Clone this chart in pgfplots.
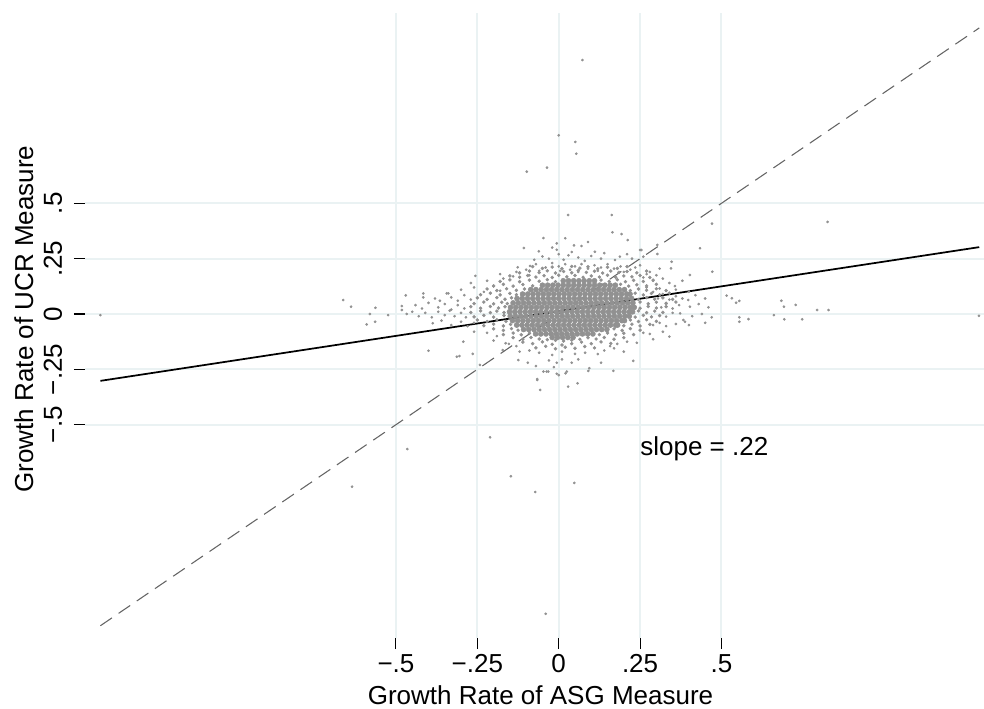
\documentclass[border=0pt]{standalone}
\usepackage{pgfplots}
\pgfplotsset{compat=1.18}
\usepackage{fontspec}
\setmainfont{Liberation Sans}
\definecolor{gridc}{RGB}{234,242,243}
\definecolor{ptc}{RGB}{145,145,145}
\definecolor{dashc}{RGB}{100,100,100}
\begin{document}
\fontsize{19.5}{23}\selectfont
\begin{tikzpicture}
\begin{axis}[
  at={(63.75pt,53.25pt)}, anchor=south west,
  scale only axis, width=674.25pt, height=468.75pt,
  xmin=-1.4553, xmax=1.3066, ymin=-1.4634, ymax=1.3595,
  axis line style={draw=none},
  tick pos=left, tick align=outside, major tick length=8.25pt,
  tick style={black, line width=0.8pt},
  grid=major, major grid style={gridc, line width=1.5pt},
  xtick={-0.5,-0.25,0,0.25,0.5}, xticklabels={−.5,−.25,0,.25,.5},
  ytick={-0.5,-0.25,0,0.25,0.5}, yticklabels={−.5,−.25,0,.25,.5},
  xticklabel style={anchor=base, inner sep=0pt, yshift=-17.25pt},
  yticklabel style={rotate=90, anchor=base, inner sep=0pt},
  yticklabel shift=9pt,
  xlabel={Growth Rate of ASG Measure},
  ylabel={Growth Rate of UCR Measure},
  xlabel style={at={(axis description cs:0.5067,-0.106)}, anchor=base, inner sep=0pt},
  ylabel style={at={(axis description cs:-0.0578,0.5104)}, anchor=base, inner sep=0pt, rotate=0},
  clip=false,
]
% dense core
\addplot[only marks, mark=*, mark size=1.9pt, ptc, mark options={draw=none, fill=ptc}] coordinates {
(0.014,0.15)(0.03,0.15)(0.046,0.15)(0.062,0.15)(0.078,0.15)(0.094,0.15)(0.11,0.15)
(-0.05,0.13)(-0.034,0.13)(-0.018,0.13)(-0.002,0.13)(0.014,0.13)(0.03,0.13)(0.046,0.13)(0.062,0.13)(0.078,0.13)(0.094,0.13)(0.11,0.13)(0.126,0.13)(0.142,0.13)(0.158,0.13)(0.174,0.13)
(-0.086,0.11)(-0.07,0.11)(-0.054,0.11)(-0.038,0.11)(-0.022,0.11)(-0.006,0.11)(0.01,0.11)(0.026,0.11)(0.042,0.11)(0.058,0.11)(0.074,0.11)(0.09,0.11)(0.106,0.11)(0.122,0.11)(0.138,0.11)(0.154,0.11)(0.17,0.11)(0.186,0.11)(0.202,0.11)
(-0.111,0.09)(-0.095,0.09)(-0.079,0.09)(-0.063,0.09)(-0.047,0.09)(-0.031,0.09)(-0.015,0.09)(0.001,0.09)(0.017,0.09)(0.033,0.09)(0.049,0.09)(0.065,0.09)(0.081,0.09)(0.097,0.09)(0.113,0.09)(0.129,0.09)(0.145,0.09)(0.161,0.09)(0.177,0.09)(0.193,0.09)(0.209,0.09)(0.219,0.09)
(-0.128,0.07)(-0.112,0.07)(-0.096,0.07)(-0.08,0.07)(-0.064,0.07)(-0.048,0.07)(-0.032,0.07)(-0.016,0.07)(0,0.07)(0.016,0.07)(0.032,0.07)(0.048,0.07)(0.064,0.07)(0.08,0.07)(0.096,0.07)(0.112,0.07)(0.128,0.07)(0.144,0.07)(0.16,0.07)(0.176,0.07)(0.192,0.07)(0.208,0.07)(0.224,0.07)
(-0.14,0.05)(-0.124,0.05)(-0.108,0.05)(-0.092,0.05)(-0.076,0.05)(-0.06,0.05)(-0.044,0.05)(-0.028,0.05)(-0.012,0.05)(0.004,0.05)(0.02,0.05)(0.036,0.05)(0.052,0.05)(0.068,0.05)(0.084,0.05)(0.1,0.05)(0.116,0.05)(0.132,0.05)(0.148,0.05)(0.164,0.05)(0.18,0.05)(0.196,0.05)(0.212,0.05)(0.228,0.05)
(-0.148,0.03)(-0.132,0.03)(-0.116,0.03)(-0.1,0.03)(-0.084,0.03)(-0.068,0.03)(-0.052,0.03)(-0.036,0.03)(-0.02,0.03)(-0.004,0.03)(0.012,0.03)(0.028,0.03)(0.044,0.03)(0.06,0.03)(0.076,0.03)(0.092,0.03)(0.108,0.03)(0.124,0.03)(0.14,0.03)(0.156,0.03)(0.172,0.03)(0.188,0.03)(0.204,0.03)(0.22,0.03)(0.232,0.03)
(-0.151,0.01)(-0.135,0.01)(-0.119,0.01)(-0.103,0.01)(-0.087,0.01)(-0.071,0.01)(-0.055,0.01)(-0.039,0.01)(-0.023,0.01)(-0.007,0.01)(0.009,0.01)(0.025,0.01)(0.041,0.01)(0.057,0.01)(0.073,0.01)(0.089,0.01)(0.105,0.01)(0.121,0.01)(0.137,0.01)(0.153,0.01)(0.169,0.01)(0.185,0.01)(0.201,0.01)(0.217,0.01)(0.227,0.01)
(-0.149,-0.01)(-0.133,-0.01)(-0.117,-0.01)(-0.101,-0.01)(-0.085,-0.01)(-0.069,-0.01)(-0.053,-0.01)(-0.037,-0.01)(-0.021,-0.01)(-0.005,-0.01)(0.011,-0.01)(0.027,-0.01)(0.043,-0.01)(0.059,-0.01)(0.075,-0.01)(0.091,-0.01)(0.107,-0.01)(0.123,-0.01)(0.139,-0.01)(0.155,-0.01)(0.171,-0.01)(0.187,-0.01)(0.203,-0.01)(0.217,-0.01)
(-0.142,-0.03)(-0.126,-0.03)(-0.11,-0.03)(-0.094,-0.03)(-0.078,-0.03)(-0.062,-0.03)(-0.046,-0.03)(-0.03,-0.03)(-0.014,-0.03)(0.002,-0.03)(0.018,-0.03)(0.034,-0.03)(0.05,-0.03)(0.066,-0.03)(0.082,-0.03)(0.098,-0.03)(0.114,-0.03)(0.13,-0.03)(0.146,-0.03)(0.162,-0.03)(0.178,-0.03)(0.194,-0.03)(0.202,-0.03)
(-0.129,-0.05)(-0.113,-0.05)(-0.097,-0.05)(-0.081,-0.05)(-0.065,-0.05)(-0.049,-0.05)(-0.033,-0.05)(-0.017,-0.05)(-0.001,-0.05)(0.015,-0.05)(0.031,-0.05)(0.047,-0.05)(0.063,-0.05)(0.079,-0.05)(0.095,-0.05)(0.111,-0.05)(0.127,-0.05)(0.143,-0.05)(0.159,-0.05)(0.175,-0.05)(0.181,-0.05)
(-0.108,-0.07)(-0.092,-0.07)(-0.076,-0.07)(-0.06,-0.07)(-0.044,-0.07)(-0.028,-0.07)(-0.012,-0.07)(0.004,-0.07)(0.02,-0.07)(0.036,-0.07)(0.052,-0.07)(0.068,-0.07)(0.084,-0.07)(0.1,-0.07)(0.116,-0.07)(0.132,-0.07)(0.148,-0.07)
(-0.071,-0.09)(-0.055,-0.09)(-0.039,-0.09)(-0.023,-0.09)(-0.007,-0.09)(0.009,-0.09)(0.025,-0.09)(0.041,-0.09)(0.057,-0.09)(0.073,-0.09)(0.089,-0.09)(0.105,-0.09)
(-0.02,-0.106)(-0.004,-0.106)(0.012,-0.106)(0.028,-0.106)(0.044,-0.106)
};
% ring around the core
\addplot[only marks, mark=*, mark size=1.1pt, ptc, mark options={draw=none, fill=ptc}] coordinates {
(-0.08,0.214)(-0.05,0.206)(-0.02,0.212)(0.01,0.205)(0.04,0.215)(0.065,0.207)(0.09,0.213)(0.12,0.204)(0.15,0.211)(0.18,0.206)(0.21,0.214)
(-0.12,0.186)(-0.09,0.194)(-0.06,0.187)(-0.035,0.195)(-0.01,0.185)(0.015,0.192)(0.04,0.186)(0.06,0.196)(0.085,0.188)(0.11,0.193)(0.135,0.185)(0.16,0.194)(0.185,0.188)(0.21,0.192)(0.24,0.186)(0.27,0.194)
(-0.15,0.172)(-0.12,0.166)(-0.095,0.174)(-0.07,0.167)(-0.045,0.173)(-0.02,0.165)(0.0,0.175)(0.025,0.168)(0.05,0.174)(0.075,0.166)(0.1,0.172)(0.125,0.167)(0.15,0.175)(0.175,0.166)(0.2,0.172)(0.225,0.168)(0.25,0.174)(0.28,0.165)
(-0.18,0.147)(-0.15,0.154)(-0.12,0.146)(-0.09,0.153)(-0.06,0.148)(-0.035,0.155)(-0.01,0.146)(0.13,0.153)(0.155,0.147)(0.18,0.155)(0.205,0.146)(0.23,0.152)(0.26,0.147)(0.29,0.153)
(-0.2,0.127)(-0.17,0.134)(-0.14,0.126)(-0.11,0.133)(-0.08,0.127)(0.19,0.134)(0.215,0.126)(0.24,0.132)(0.27,0.127)(0.30,0.134)
(-0.22,0.113)(-0.19,0.106)(-0.16,0.114)(-0.13,0.107)(-0.105,0.113)(0.22,0.106)(0.245,0.113)(0.27,0.107)(0.30,0.114)(0.33,0.106)
(-0.24,0.087)(-0.21,0.094)(-0.18,0.086)(-0.15,0.093)(-0.13,0.087)(0.235,0.094)(0.26,0.086)(0.285,0.093)(0.31,0.087)(0.34,0.094)
(-0.25,0.073)(-0.22,0.066)(-0.19,0.074)(-0.165,0.067)(-0.145,0.073)(0.245,0.066)(0.27,0.074)(0.295,0.067)(0.32,0.073)(0.35,0.066)
(-0.26,0.047)(-0.23,0.054)(-0.2,0.046)(-0.175,0.053)(-0.158,0.047)(0.25,0.054)(0.275,0.046)(0.30,0.053)(0.33,0.047)(0.36,0.054)
(-0.27,0.033)(-0.24,0.026)(-0.21,0.034)(-0.185,0.027)(-0.165,0.033)(0.25,0.026)(0.275,0.034)(0.30,0.027)(0.33,0.033)
(-0.27,0.007)(-0.24,0.014)(-0.21,0.006)(-0.19,0.013)(-0.168,0.007)(0.245,0.014)(0.27,0.006)(0.295,0.013)(0.32,0.007)
(-0.26,-0.013)(-0.23,-0.006)(-0.2,-0.014)(-0.168,-0.007)(0.235,-0.014)(0.26,-0.006)(0.285,-0.013)(0.31,-0.007)
(-0.25,-0.027)(-0.22,-0.034)(-0.19,-0.026)(-0.162,-0.033)(0.22,-0.027)(0.245,-0.034)(0.27,-0.026)(0.30,-0.033)
(-0.23,-0.053)(-0.2,-0.046)(-0.17,-0.054)(-0.148,-0.047)(0.2,-0.053)(0.225,-0.046)(0.25,-0.054)(0.28,-0.047)
(-0.2,-0.067)(-0.17,-0.074)(-0.145,-0.066)(-0.125,-0.073)(0.17,-0.067)(0.195,-0.074)(0.22,-0.066)(0.25,-0.073)
(-0.17,-0.093)(-0.14,-0.086)(-0.115,-0.094)(-0.09,-0.087)(0.125,-0.093)(0.15,-0.086)(0.175,-0.094)(0.2,-0.087)(0.23,-0.093)
(-0.14,-0.107)(-0.11,-0.114)(-0.085,-0.106)(-0.06,-0.113)(-0.035,-0.116)(-0.01,-0.119)(0.015,-0.122)(0.04,-0.118)(0.065,-0.114)(0.09,-0.107)(0.115,-0.113)(0.14,-0.106)(0.17,-0.114)(0.2,-0.107)
(-0.11,-0.127)(-0.08,-0.134)(-0.05,-0.126)(-0.02,-0.137)(0.01,-0.14)(0.04,-0.134)(0.07,-0.127)(0.1,-0.134)(0.13,-0.126)(0.16,-0.133)
(-0.07,-0.153)(-0.04,-0.146)(-0.01,-0.157)(0.02,-0.15)(0.05,-0.155)(0.08,-0.147)(0.11,-0.153)
};
% halo and outliers
\addplot[only marks, mark=*, mark size=0.8pt, ptc, mark options={draw=none, fill=ptc}] coordinates {
(-0.047,0.343)(0.02,0.342)(-0.006,0.319)(0.07,0.307)(-0.107,0.298)(0.193,0.361)(0.165,0.369)(0.212,0.334)(0.303,0.312)(0.434,0.297)(0.029,0.447)(0.163,0.447)(0.25,0.289)(0.254,0.289)(-0.061,0.283)(0.111,0.281)(0.047,0.31)(-0.02,0.30)(0.09,0.325)
(-0.006,0.29)(0.0,0.27)(0.303,0.271)(0.188,0.259)(0.173,0.244)(0.26,0.259)(0.347,0.236)(-0.088,0.217)(-0.126,0.211)(0.03,0.265)(0.06,0.255)(0.10,0.262)(0.13,0.25)(-0.03,0.25)(-0.05,0.26)(0.015,0.245)(0.08,0.24)(0.21,0.27)(0.225,0.25)(0.14,0.275)(-0.075,0.245)(0.04,0.28)
(-0.18,0.18)(-0.256,0.172)(0.345,0.206)(0.403,0.176)(0.472,0.191)(-0.10,0.20)(-0.07,0.225)(-0.04,0.21)(-0.02,0.23)(0.0,0.215)(0.02,0.225)(0.035,0.20)(0.05,0.215)(0.07,0.225)(0.09,0.205)(0.11,0.22)(0.13,0.21)(0.15,0.225)(0.17,0.205)(0.19,0.215)(0.22,0.20)(0.25,0.22)(0.28,0.19)(0.31,0.205)(-0.13,0.19)(-0.06,0.195)(0.005,0.195)(0.06,0.19)(0.12,0.195)(0.20,0.19)(0.235,0.21)
(-0.22,0.15)(-0.17,0.16)(-0.14,0.17)(-0.12,0.145)(-0.09,0.175)(0.26,0.165)(0.29,0.15)(0.32,0.16)(0.357,0.126)(-0.27,0.14)(0.27,0.18)(0.30,0.175)(0.34,0.14)(0.38,0.15)
(-0.30,0.11)(-0.26,0.12)(-0.23,0.10)(-0.20,0.125)(-0.18,0.105)(0.27,0.12)(0.29,0.10)(0.31,0.115)(0.33,0.105)(0.36,0.11)(0.40,0.10)(-0.344,0.093)(-0.339,0.093)(-0.416,0.093)(-0.47,0.084)
(-0.38,0.07)(-0.365,0.06)(-0.33,0.075)(-0.31,0.06)(-0.29,0.085)(-0.27,0.065)(0.305,0.07)(0.32,0.09)(0.34,0.065)(0.36,0.08)(0.38,0.07)(0.398,0.063)(0.42,0.085)(0.45,0.07)(-0.416,0.075)
(-0.482,0.036)(-0.44,0.04)(-0.42,0.025)(-0.40,0.05)(-0.37,0.03)(-0.35,0.045)(-0.33,0.02)(-0.31,0.04)(-0.29,0.025)(0.315,0.03)(0.33,0.05)(0.35,0.025)(0.37,0.04)(0.403,0.033)(0.43,0.045)(0.46,0.03)(-0.563,0.028)(-0.638,0.033)(-0.662,0.063)(0.516,0.083)(0.532,0.071)(0.545,0.051)(0.555,0.059)
(-0.58,0.0)(-0.524,-0.005)(-0.482,0.018)(-0.467,0.0)(-0.45,0.01)(-0.43,-0.01)(-0.41,0.005)(-0.39,-0.015)(-0.37,0.01)(-0.35,-0.005)(-0.335,0.015)(-0.32,-0.01)(-0.30,0.005)(-0.285,-0.015)(0.33,-0.012)(0.35,0.005)(0.373,0.003)(0.383,-0.027)(0.388,-0.035)(0.41,-0.01)(0.44,0.0)(0.47,-0.015)(0.555,-0.015)(0.555,-0.035)(0.583,-0.023)(0.661,-0.005)(0.693,-0.024)(0.748,-0.024)(0.684,0.06)(0.692,0.033)(0.728,0.041)(0.794,0.018)(0.829,0.018)(1.291,-0.008)(-1.408,-0.005)
(-0.59,-0.047)(-0.564,-0.035)(-0.387,-0.042)(-0.36,-0.03)(-0.33,-0.05)(-0.30,-0.035)(-0.28,-0.055)(-0.26,-0.04)(0.29,-0.05)(0.31,-0.04)(0.33,-0.055)(0.36,-0.045)(0.40,-0.05)(0.45,-0.04)
(-0.26,-0.08)(-0.22,-0.085)(-0.19,-0.10)(0.26,-0.085)(0.28,-0.09)(0.32,-0.08)(0.34,-0.102)(0.29,-0.114)
(-0.293,-0.125)(-0.163,-0.132)(-0.153,-0.135)(-0.20,-0.12)(-0.13,-0.145)(0.18,-0.135)(0.21,-0.125)(0.24,-0.13)(0.158,-0.145)
(-0.172,-0.163)(-0.313,-0.193)(-0.305,-0.19)(-0.264,-0.18)(-0.4,-0.166)(-0.12,-0.17)(-0.09,-0.165)(-0.06,-0.175)(-0.02,-0.185)(0.01,-0.17)(0.05,-0.18)(0.081,-0.175)(0.12,-0.181)(0.14,-0.165)(0.17,-0.155)(0.2,-0.17)
(-0.242,-0.23)(-0.124,-0.208)(-0.095,-0.22)(-0.066,-0.294)(-0.037,-0.26)(-0.047,-0.26)(-0.032,-0.26)(-0.006,-0.22)(-0.006,-0.27)(0.0,-0.276)(0.021,-0.268)(0.025,-0.26)(0.094,-0.245)(0.168,-0.257)(0.229,-0.212)(0.091,-0.257)(-0.057,-0.343)(0.029,-0.328)(0.058,-0.313)(-0.066,-0.298)(-0.03,-0.21)(0.04,-0.22)(0.06,-0.205)(-0.07,-0.235)(0.13,-0.22)(-0.015,-0.24)(0.01,-0.205)
(-0.211,-0.557)(-0.465,-0.61)(-0.635,-0.78)(-0.147,-0.733)(-0.072,-0.804)(0.048,-0.763)(-0.04,-1.354)(0.073,1.147)(0.0,0.807)(0.051,0.777)(0.054,0.724)(-0.036,0.661)(-0.098,0.643)(0.471,0.408)(0.826,0.416)
};
% 45-degree line
\addplot[dashc, line width=0.8pt, dash pattern=on 10.5pt off 6pt] coordinates {(-1.408,-1.408) (1.292,1.292)};
% fitted line
\addplot[black, line width=1.3pt] coordinates {(-1.408,-0.302) (1.292,0.302)};
\node[anchor=base west, inner sep=0pt] at (axis cs:0.25,-0.637) {slope = .22};
\end{axis}
\pgfresetboundingbox
\path (0,0) rectangle (738pt,531.75pt);
\end{tikzpicture}
\end{document}
